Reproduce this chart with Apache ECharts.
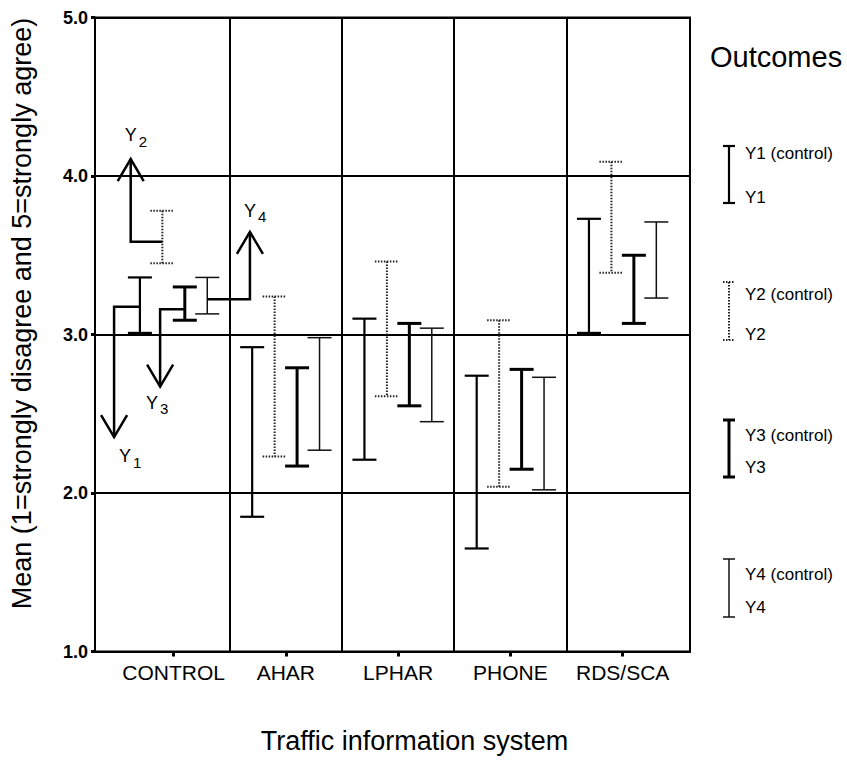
<!DOCTYPE html>
<html>
<head>
<meta charset="utf-8">
<title>Traffic information system</title>
<script src="https://cdn.jsdelivr.net/npm/echarts@6/dist/echarts.min.js"></script>
<style>
html, body { margin: 0; padding: 0; background: #fff; }
#chart { width: 847px; height: 761px; }
</style>
</head>
<body>
<div id="chart"></div>
<script>
// categories along the x axis
var groups = ['CONTROL', 'AHAR', 'LPHAR', 'PHONE', 'RDS/SCA'];
var groupTicks = [0, 5, 10, 15, 20];
var dividers = [2.5, 7.5, 12.5, 17.5];
var outcomes = ['Y1', 'Y2', 'Y3', 'Y4'];

// upper / lower ends of each bar (mean scale 1..5)
var y1Top    = [3.36, 2.92, 3.10, 2.74, 3.73];
var y1Bottom = [3.01, 1.85, 2.21, 1.65, 3.01];
var y2Top    = [3.78, 3.24, 3.46, 3.09, 4.09];
var y2Bottom = [3.45, 2.23, 2.61, 2.04, 3.39];
var y3Top    = [3.30, 2.79, 3.07, 2.78, 3.50];
var y3Bottom = [3.09, 2.17, 2.55, 2.15, 3.07];
var y4Top    = [3.36, 2.98, 3.04, 2.73, 3.71];
var y4Bottom = [3.13, 2.27, 2.45, 2.02, 3.23];

var yTicks = [1, 2, 3, 4, 5];

var FONT = '"Liberation Sans", Arial, Helvetica, sans-serif';

// look of each outcome's bars
var barStyles = [
	{ lineWidth: 2.2, lineDash: null,   stroke: '#000' },
	{ lineWidth: 2,   lineDash: [1.5, 1.5], stroke: '#222' },
	{ lineWidth: 3,   lineDash: null,   stroke: '#000' },
	{ lineWidth: 1.5, lineDash: null,   stroke: '#111' }
];
var slotOffsets = [-1.5, -0.5, 0.5, 1.5];

// annotation arrows from the control bars (Y1..Y4)
var arrows = [
	{ fromX: -1.5, y: 3.175, bendX: -2.65, tipY: 2.353, lx: 11, ly: 19, sub: '1' },
	{ fromX: -0.5, y: 3.585, bendX: -1.91, tipY: 4.107, lx: 0,  ly: -24, sub: '2' },
	{ fromX: 0.5,  y: 3.159, bendX: -0.60, tipY: 2.671, lx: -8, ly: 16, sub: '3' },
	{ fromX: 1.5,  y: 3.222, bendX: 3.40,  tipY: 3.647, lx: 0,  ly: -21, sub: '4' }
];

var tops = [y1Top, y2Top, y3Top, y4Top];
var bottoms = [y1Bottom, y2Bottom, y3Bottom, y4Bottom];

function barData(k) {
	var out = [];
	for (var g = 0; g < groups.length; g++) {
		out.push([groupTicks[g] + slotOffsets[k], bottoms[k][g], tops[k][g]]);
	}
	return out;
}

function makeBarRenderer(st) {
	return function (params, api) {
		var x = api.value(0);
		var pLo = api.coord([x, api.value(1)]);
		var pHi = api.coord([x, api.value(2)]);
		var half = 12;
		var style = { stroke: st.stroke, lineWidth: st.lineWidth, lineDash: st.lineDash };
		return {
			type: 'group',
			children: [
				{ type: 'line', shape: { x1: pHi[0], y1: pHi[1], x2: pLo[0], y2: pLo[1] }, style: style },
				{ type: 'line', shape: { x1: pHi[0] - half, y1: pHi[1], x2: pHi[0] + half, y2: pHi[1] }, style: style },
				{ type: 'line', shape: { x1: pLo[0] - half, y1: pLo[1], x2: pLo[0] + half, y2: pLo[1] }, style: style }
			]
		};
	};
}

function renderArrow(params, api) {
	var a = arrows[params.dataIndex];
	var p0 = api.coord([a.fromX, a.y]);
	var p1 = api.coord([a.bendX, a.y]);
	var p2 = api.coord([a.bendX, a.tipY]);
	var dir = p2[1] < p1[1] ? 1 : -1;
	var wing = [[p2[0] - 13, p2[1] + dir * 22], [p2[0], p2[1]], [p2[0] + 13, p2[1] + dir * 22]];
	var ls = { stroke: '#000', lineWidth: 2.5, fill: null };
	return {
		type: 'group',
		children: [
			{ type: 'polyline', shape: { points: [p0, p1, p2] }, style: ls },
			{ type: 'polyline', shape: { points: wing }, style: ls },
			{ type: 'text', style: { text: 'Y', x: p2[0] + a.lx, y: p2[1] + a.ly, align: 'center', verticalAlign: 'middle', font: '18px ' + FONT, fill: '#000' } },
			{ type: 'text', style: { text: a.sub, x: p2[0] + a.lx + 8, y: p2[1] + a.ly + 6, align: 'left', verticalAlign: 'middle', font: '15px ' + FONT, fill: '#000' } }
		]
	};
}

// hand-drawn legend on the right
var legendItems = [
	{ top: 146, bottom: 203, l1: 153, l2: 197 },
	{ top: 282, bottom: 340, l1: 294, l2: 334 },
	{ top: 420, bottom: 477, l1: 435, l2: 467 },
	{ top: 559, bottom: 617, l1: 574, l2: 607 }
];

function legendGraphics() {
	var els = [{
		type: 'text', left: 710, top: 42,
		style: { text: 'Outcomes', font: '29px ' + FONT, fill: '#000' }
	}];
	legendItems.forEach(function (it, k) {
		var st = barStyles[k];
		var style = { stroke: st.stroke, lineWidth: st.lineWidth, lineDash: st.lineDash };
		var x = 729;
		els.push({ type: 'line', shape: { x1: x, y1: it.top, x2: x, y2: it.bottom }, style: style });
		els.push({ type: 'line', shape: { x1: x - 6, y1: it.top, x2: x + 6, y2: it.top }, style: style });
		els.push({ type: 'line', shape: { x1: x - 6, y1: it.bottom, x2: x + 6, y2: it.bottom }, style: style });
		els.push({ type: 'text', x: 745, y: it.l1, style: { text: outcomes[k] + ' (control)', font: '17px ' + FONT, fill: '#000', verticalAlign: 'middle' } });
		els.push({ type: 'text', x: 745, y: it.l2, style: { text: outcomes[k], font: '17px ' + FONT, fill: '#000', verticalAlign: 'middle' } });
	});
	return els;
}

var chart = echarts.init(document.getElementById('chart'), null, { renderer: 'svg' });

var series = outcomes.map(function (name, k) {
	var s = {
		name: name,
		type: 'custom',
		renderItem: makeBarRenderer(barStyles[k]),
		encode: { x: 0, y: [1, 2] },
		data: barData(k),
		silent: true,
		z: 5
	};
	if (k === 0) {
		s.markLine = {
			silent: true,
			symbol: ['none', 'none'],
			label: { show: false },
			lineStyle: { color: '#000', width: 2, type: 'solid' },
			data: dividers.map(function (v) { return { xAxis: v }; }),
			z: 1
		};
	}
	return s;
});

series.push({
	name: 'arrows',
	type: 'custom',
	renderItem: renderArrow,
	data: arrows.map(function (a, i) { return [a.bendX, a.tipY, i]; }),
	encode: { x: 0, y: 1 },
	silent: true,
	z: 6
});

var option = {
	backgroundColor: '#fff',
	animation: false,
	grid: {
		left: 95, right: 157, top: 17.5, bottom: 109.5,
		show: true, borderColor: '#000', borderWidth: 2,
		outerBoundsMode: 'none'
	},
	xAxis: {
		type: 'value',
		min: -3.5,
		max: 23,
		name: 'Traffic information system',
		nameLocation: 'middle',
		nameGap: 76,
		nameTextStyle: { fontFamily: FONT, fontSize: 27, color: '#000', padding: [0, 0, 0, 44] },
		axisLine: { show: true, onZero: false, lineStyle: { color: '#000', width: 2 } },
		axisTick: { show: true, customValues: groupTicks, length: 5, lineStyle: { color: '#000', width: 3 } },
		axisLabel: {
			customValues: groupTicks,
			formatter: function (v) { return groups[groupTicks.indexOf(v)] || ''; },
			fontFamily: FONT, fontSize: 21, color: '#000', margin: 10
		},
		splitLine: { show: false }
	},
	yAxis: {
		type: 'value',
		min: 1,
		max: 5,
		interval: 1,
		name: 'Mean (1=strongly disagree and 5=strongly agree)',
		nameLocation: 'middle',
		nameGap: 60,
		nameTextStyle: { fontFamily: FONT, fontSize: 27, color: '#000', padding: [0, 0, 0, 42] },
		axisLine: { show: true, onZero: false, lineStyle: { color: '#000', width: 2 } },
		axisTick: { show: true, length: 4, lineStyle: { color: '#000', width: 3 } },
		axisLabel: {
			formatter: function (v) { return yTicks.indexOf(v) >= 0 ? v.toFixed(1) : ''; },
			fontFamily: FONT, fontSize: 18, fontWeight: 'bold', color: '#000', margin: 7
		},
		splitLine: { show: true, lineStyle: { color: '#000', width: 2 } }
	},
	graphic: legendGraphics(),
	series: series
};

chart.setOption(option);
</script>
</body>
</html>
